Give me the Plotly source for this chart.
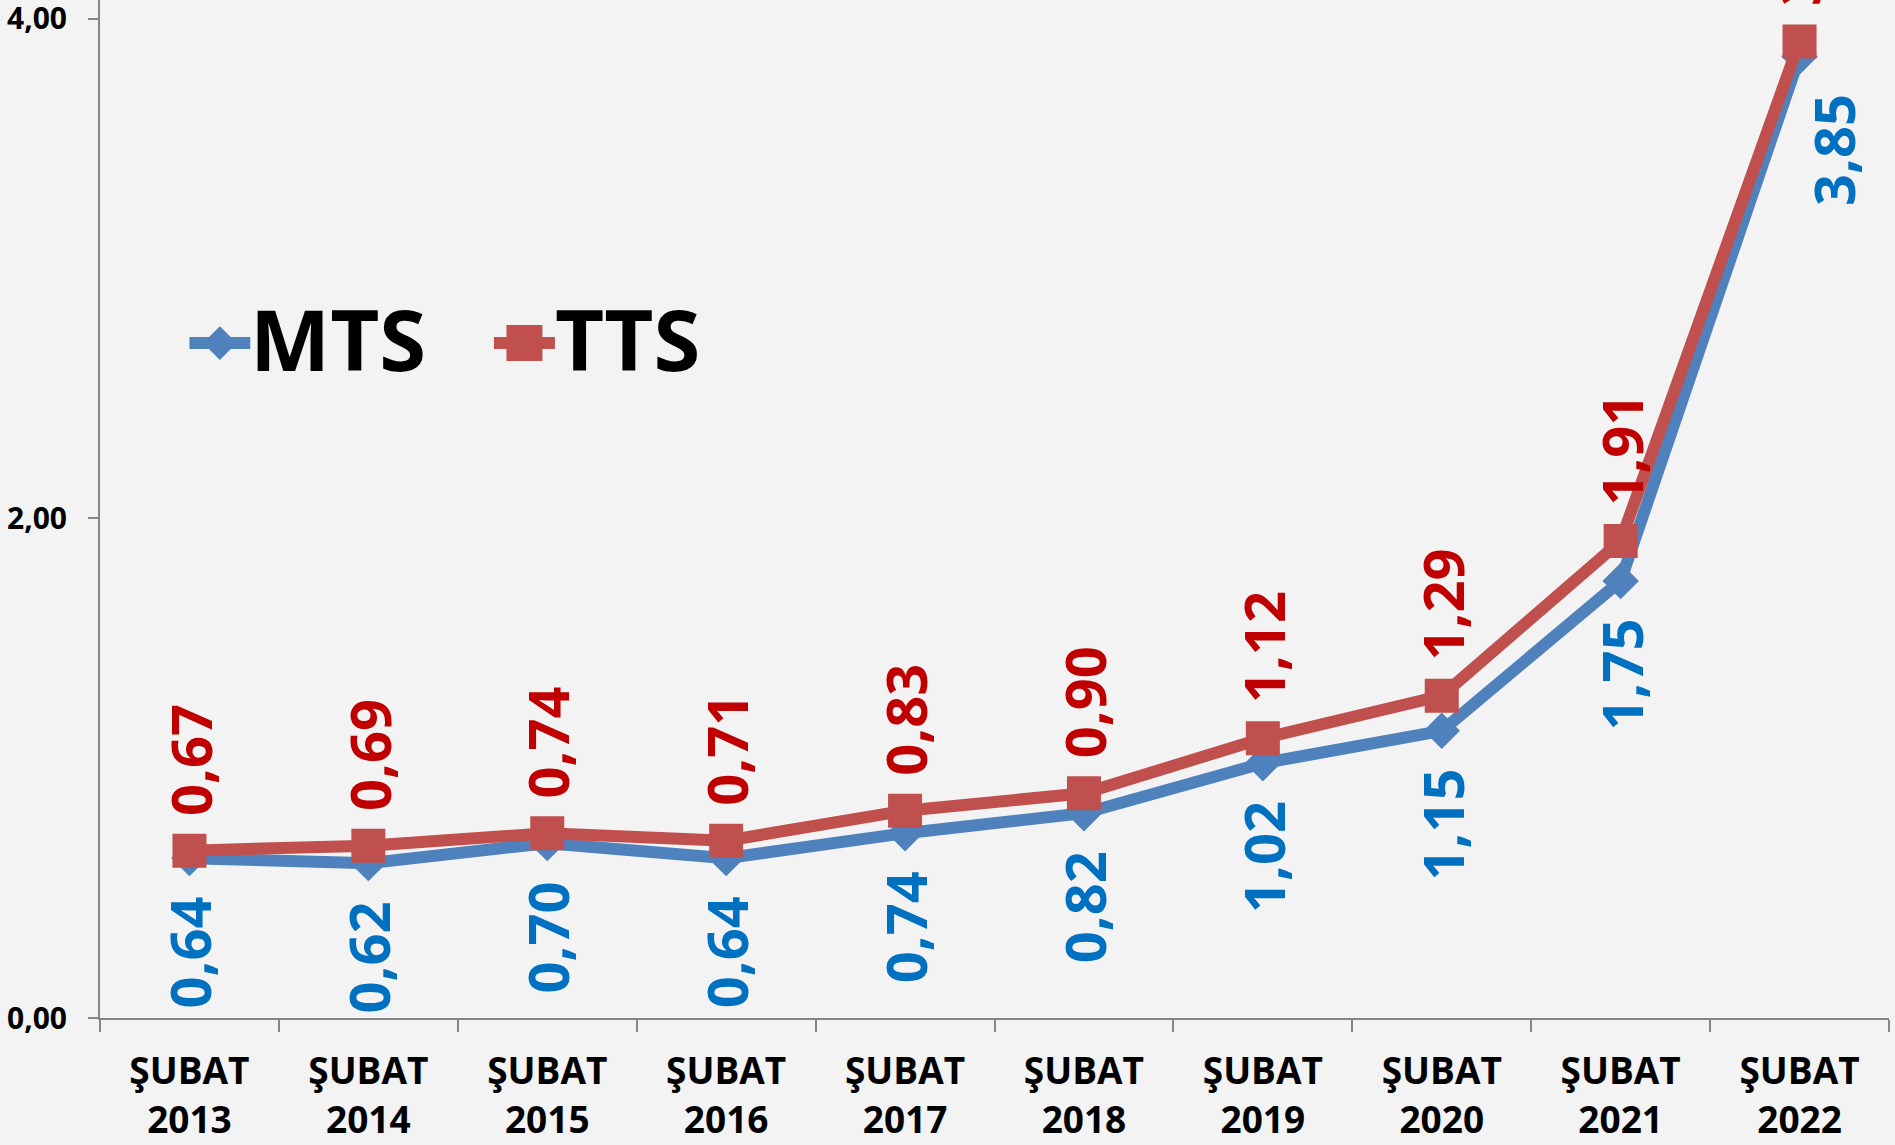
import plotly.graph_objects as go

# data
months = ['ŞUBAT<br>2013', 'ŞUBAT<br>2014', 'ŞUBAT<br>2015', 'ŞUBAT<br>2016', 'ŞUBAT<br>2017',
          'ŞUBAT<br>2018', 'ŞUBAT<br>2019', 'ŞUBAT<br>2020', 'ŞUBAT<br>2021', 'ŞUBAT<br>2022']
mts = [0.64, 0.62, 0.70, 0.64, 0.74, 0.82, 1.02, 1.15, 1.75, 3.85]
tts = [0.67, 0.69, 0.74, 0.71, 0.83, 0.90, 1.12, 1.29, 1.91, 3.91]
series_names = ['MTS', 'TTS']
y_ticks = [0, 2, 4]
y_tick_labels = ['0,00', '2,00', '4,00']

BLUE_LINE = '#4F81BD'
RED_LINE = '#C0504D'
BLUE_TEXT = '#0070C0'
RED_TEXT = '#C00000'
AXIS_GRAY = '#868686'
FONT = 'Open Sans, Lato, sans-serif'


def fmt(v):
    return f'{v:.2f}'.replace('.', ',')


fig = go.Figure()

fig.add_trace(
    go.Scatter(
        x=months, y=mts, name=series_names[0], mode='lines+markers',
        line=dict(color=BLUE_LINE, width=12),
        marker=dict(symbol='diamond', size=28, color=BLUE_LINE),
        showlegend=False,
    )
)
fig.add_trace(
    go.Scatter(
        x=months, y=tts, name=series_names[1], mode='lines+markers',
        line=dict(color=RED_LINE, width=12),
        marker=dict(symbol='square', size=34, color=RED_LINE),
        showlegend=False,
    )
)

# hand-made legend (big symbols like the Excel original) on a hidden 0..1 overlay axis
legend_items = [
    (series_names[0], BLUE_LINE, 'diamond', 26, 0.050, 0.084),
    (series_names[1], RED_LINE, 'square', 36, 0.2202, 0.2543),
]
legend_y = 0.663
for name, color, symbol, size, x0, x1 in legend_items:
    fig.add_trace(go.Scatter(
        x=[x0, x1], y=[legend_y, legend_y], mode='lines', xaxis='x2', yaxis='y2',
        line=dict(color=color, width=12), showlegend=False, hoverinfo='skip',
    ))
    fig.add_trace(go.Scatter(
        x=[(x0 + x1) / 2], y=[legend_y], mode='markers', xaxis='x2', yaxis='y2',
        marker=dict(symbol=symbol, size=size, color=color), showlegend=False, hoverinfo='skip',
    ))

annotations = []
for name, color, symbol, size, x0, x1 in legend_items:
    annotations.append(dict(
        x=x1 - 0.001, y=legend_y + 0.005, xref='paper', yref='paper', text=f'<b>{name}</b>',
        showarrow=False, xanchor='left', yanchor='middle',
        font=dict(family=FONT, size=85, color='black'),
    ))

# rotated data labels: TTS above the point, MTS below
for m, v in zip(months, tts):
    annotations.append(dict(
        x=m, y=v, xref='x', yref='y', text=f'<b>{fmt(v)}</b>', textangle=-90,
        showarrow=False, xanchor='center', yanchor='bottom', yshift=33,
        font=dict(family=FONT, size=56, color=RED_TEXT),
    ))
for i, (m, v) in enumerate(zip(months, mts)):
    annotations.append(dict(
        x=m, y=v, xref='x', yref='y', text=f'<b>{fmt(v)}</b>', textangle=-90,
        showarrow=False, xanchor='center', yanchor='top', yshift=-36,
        xshift=34 if i == len(mts) - 1 else 0,
        font=dict(family=FONT, size=56, color=BLUE_TEXT),
    ))

fig.update_layout(
    width=1895, height=1145,
    margin=dict(l=100, r=6, t=0, b=127),
    paper_bgcolor='#f3f3f3',
    plot_bgcolor='rgba(0,0,0,0)',
    showlegend=False,
    annotations=annotations,
    xaxis=dict(
        type='category', range=[-0.5, 9.5], tickson='boundaries', automargin=False,
        ticks='outside', ticklen=12, tickwidth=2, tickcolor=AXIS_GRAY,
        showline=True, linecolor=AXIS_GRAY, linewidth=2, showgrid=False,
        tickfont=dict(family=FONT, size=37, color='black', weight=700),
        ticklabelstandoff=20,
    ),
    yaxis=dict(
        range=[0, 4.076], tickvals=y_ticks, ticktext=y_tick_labels, automargin=False,
        ticks='outside', ticklen=10, tickwidth=2, tickcolor=AXIS_GRAY,
        showline=True, linecolor=AXIS_GRAY, linewidth=2, showgrid=False, zeroline=False,
        tickfont=dict(family=FONT, size=30, color='black', weight=700),
        ticklabelstandoff=15, ticklabeloverflow='allow',
    ),
    xaxis2=dict(overlaying='x', range=[0, 1], visible=False),
    yaxis2=dict(overlaying='y', range=[0, 1], visible=False),
)

# drop the default 8px page margin so the chart fills the window edge to edge
fig.write_html("out.html", config={'displayModeBar': False},
               post_script="document.body.style.margin='0';")
